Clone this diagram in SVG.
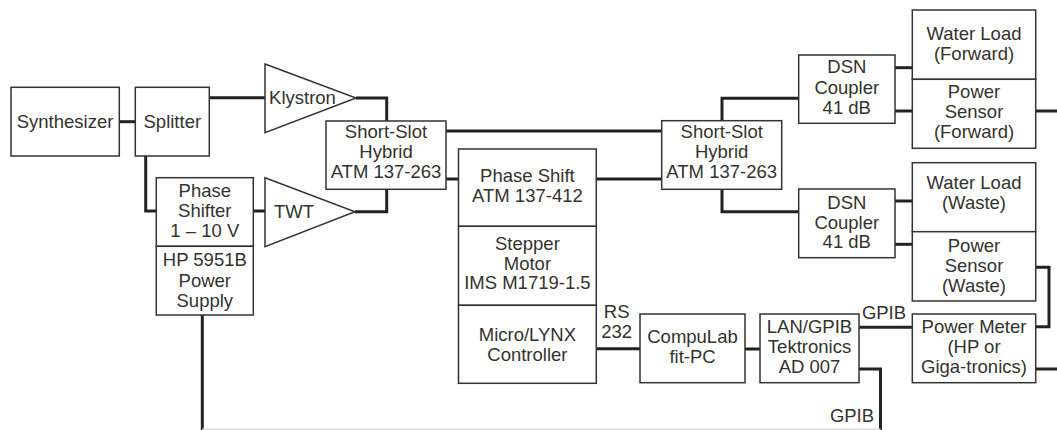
<svg xmlns="http://www.w3.org/2000/svg" width="1057" height="430" viewBox="0 0 1057 430">
<style>
.b{fill:#fff;stroke:#333;stroke-width:1.5}
.c{fill:none;stroke:#222;stroke-width:3}
text{font-family:"Liberation Sans",Arial,sans-serif;font-size:18.5px;fill:#33332d;text-anchor:middle}
</style>
<rect width="1057" height="430" fill="#fff"/>
<g id="connectors">
<path class="c" d="M119,121.7H135"/>
<path class="c" d="M209,97.7H265"/>
<path class="c" d="M356,98H386.7V121"/>
<path class="c" d="M355,211.7H386.7V189.3"/>
<path class="c" d="M145.7,156V211H156.3"/>
<path class="c" d="M253.3,211H265"/>
<path class="c" d="M446,131H661.7"/>
<path class="c" d="M446,179H459"/>
<path class="c" d="M596,179H661.7"/>
<path class="c" d="M722,120.7V98.3H798.7"/>
<path class="c" d="M722,189.3V211.7H798.7"/>
<path class="c" d="M895,67.7H912.3"/>
<path class="c" d="M895,111H912.3"/>
<path class="c" d="M895,201H912.3"/>
<path class="c" d="M895,244.3H912.3"/>
<path class="c" d="M1035.7,111H1057"/>
<path class="c" d="M1035.7,267.3H1049V326.7H1035.7"/>
<path class="c" d="M1035.7,369H1057"/>
<path class="c" d="M596.3,348.7H640"/>
<path class="c" d="M745,349H760"/>
<path class="c" d="M859,327.3H912.3"/>
<path class="c" d="M859,369H880.5V430"/>
<path class="c" d="M202.3,315V430"/>
<path d="M202.3,429.3H880.5" fill="none" stroke="#ddd" stroke-width="1.5"/>
<text x="616.7" y="318.2">RS</text>
<text x="616.7" y="338.2">232</text>
<text x="884" y="319.2">GPIB</text>
<text x="852" y="421.5">GPIB</text>
</g>
<g id="synthesizer"><rect class="b" x="11" y="87.3" width="108.3" height="68.7"/><text x="65" y="128.2">Synthesizer</text></g>
<g id="splitter"><rect class="b" x="135.3" y="87.3" width="74" height="68.7"/><text x="172.3" y="128.2">Splitter</text></g>
<g id="klystron"><path class="b" d="M265,64L356,98L265,132.7Z"/><text x="302.5" y="104.2">Klystron</text></g>
<g id="twt"><path class="b" d="M265,177.7L355,211.7L265,246.7Z"/><text x="294" y="218.2">TWT</text></g>
<g id="phase-shifter"><rect class="b" x="156.3" y="177.7" width="97" height="68.6"/><text x="204.8" y="196.5">Phase</text><text x="204.8" y="216.5">Shifter</text><text x="204.8" y="236.5">1 – 10 V</text></g>
<g id="power-supply"><rect class="b" x="156.3" y="246.3" width="97" height="68.7"/><text x="204.8" y="265.8">HP 5951B</text><text x="204.8" y="286.5">Power</text><text x="204.8" y="306.5">Supply</text></g>
<g id="hybrid1"><rect class="b" x="326" y="121" width="120" height="68.3"/><text x="386" y="138.2">Short-Slot</text><text x="386" y="158.2">Hybrid</text><text x="386" y="178.2">ATM 137-263</text></g>
<g id="phase-shift"><rect class="b" x="458.5" y="149" width="137.8" height="77.3"/><text x="527.4" y="181.5">Phase Shift</text><text x="527.4" y="201.5">ATM 137-412</text></g>
<g id="stepper"><rect class="b" x="458.5" y="226.3" width="137.8" height="79"/><text x="527.4" y="249.8">Stepper</text><text x="527.4" y="269.8">Motor</text><text x="527.4" y="288.8">IMS M1719-1.5</text></g>
<g id="controller"><rect class="b" x="458.5" y="305.3" width="137.8" height="78"/><text x="527.4" y="340.5">Micro/LYNX</text><text x="527.4" y="360.5">Controller</text></g>
<g id="compulab"><rect class="b" x="640" y="314" width="105" height="68.7"/><text x="692.5" y="343.2">CompuLab</text><text x="692.5" y="363.2">fit-PC</text></g>
<g id="lan-gpib"><rect class="b" x="760" y="314" width="99" height="68.7"/><text x="809.5" y="333.2">LAN/GPIB</text><text x="809.5" y="353.2">Tektronics</text><text x="809.5" y="373.2">AD 007</text></g>
<g id="power-meter"><rect class="b" x="912.3" y="314" width="123.4" height="68.7"/><text x="974" y="333.2">Power Meter</text><text x="974" y="353.2">(HP or</text><text x="974" y="373.2">Giga-tronics)</text></g>
<g id="hybrid2"><rect class="b" x="661.7" y="120.7" width="120" height="68.6"/><text x="721.7" y="138.2">Short-Slot</text><text x="721.7" y="158.2">Hybrid</text><text x="721.7" y="178.2">ATM 137-263</text></g>
<g id="dsn1"><rect class="b" x="798.7" y="55" width="96.3" height="68.3"/><text x="846.8" y="73.2">DSN</text><text x="846.8" y="93.8">Coupler</text><text x="846.8" y="113.8">41 dB</text></g>
<g id="dsn2"><rect class="b" x="798.7" y="189" width="96.3" height="68.7"/><text x="846.8" y="209.2">DSN</text><text x="846.8" y="229.2">Coupler</text><text x="846.8" y="248.2">41 dB</text></g>
<g id="water-forward"><rect class="b" x="912.3" y="10" width="123.4" height="69.3"/><text x="974" y="39.8">Water Load</text><text x="974" y="59.8">(Forward)</text></g>
<g id="sensor-forward"><rect class="b" x="912.3" y="79.3" width="123.4" height="69"/><text x="974" y="98.2">Power</text><text x="974" y="118.2">Sensor</text><text x="974" y="138.2">(Forward)</text></g>
<g id="water-waste"><rect class="b" x="912.3" y="162.7" width="123.4" height="69"/><text x="974" y="189.2">Water Load</text><text x="974" y="209.2">(Waste)</text></g>
<g id="sensor-waste"><rect class="b" x="912.3" y="231.7" width="123.4" height="69.3"/><text x="974" y="251.5">Power</text><text x="974" y="271.5">Sensor</text><text x="974" y="291.5">(Waste)</text></g>
</svg>
